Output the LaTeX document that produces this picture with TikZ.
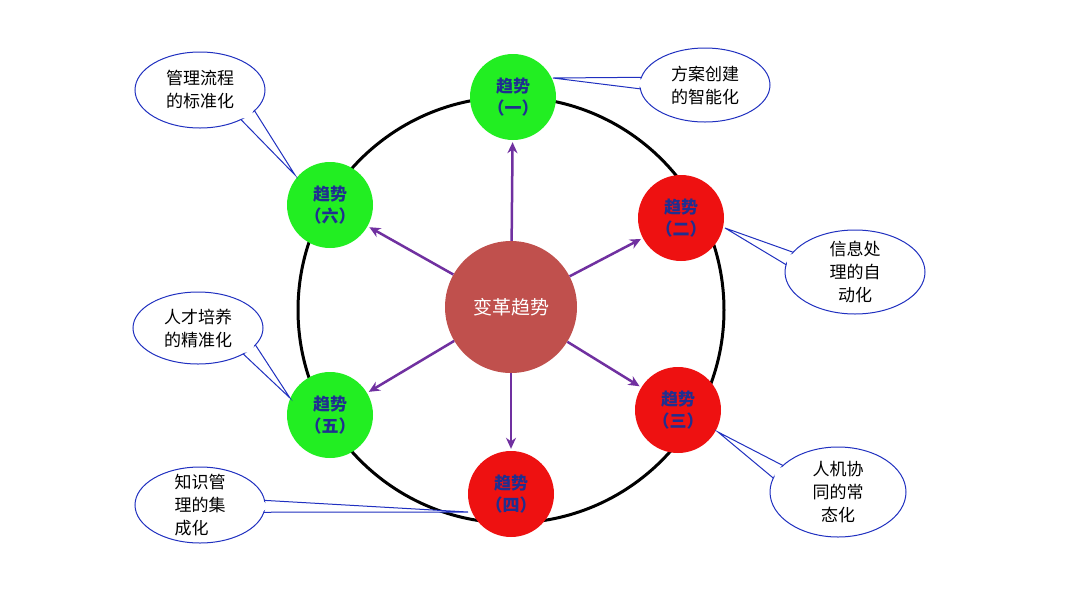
\documentclass[tikz,border=0pt]{standalone}
\usepackage{fontspec}
\newfontfamily\cjk{Noto Sans CJK SC}
\usetikzlibrary{arrows.meta,calc}
\definecolor{trblue}{HTML}{1F2F90}
\definecolor{purp}{HTML}{7030A0}
\definecolor{ctr}{HTML}{C0504D}
\definecolor{gr}{HTML}{22EE22}
\definecolor{rd}{HTML}{EE1111}
\definecolor{cb}{HTML}{2030C0}
\tikzset{
 trend/.style={circle,minimum size=86pt,inner sep=0pt,align=center,font=\cjk\bfseries\fontsize{17}{22}\selectfont,text=trblue},
 arr/.style={draw=purp,line width=2.5pt,-{Stealth[length=11pt,width=10pt]},shorten >=2pt},
 ctext/.style={align=center,font=\cjk\fontsize{17}{23}\selectfont}
}
\newcommand{\callout}[6]{% name, x, y, rx, ry, angle
 \coordinate (#1c) at (#2,#3);
 \path[fill=white,draw=cb,line width=1pt] ($(#1c)+(#6-9:#4 and #5)$) -- (#1t) -- ($(#1c)+(#6+9:#4 and #5)$);
 \draw[fill=white,draw=cb,line width=1pt] (#1c) ellipse [x radius=#4,y radius=#5];
 \fill[white] ($(#1c)+(#6-8.3:#4-1.2 and #5-1.2)$) -- ($(#1c)+(#6:#4+4 and #5+4)$) -- ($(#1c)+(#6+8.3:#4-1.2 and #5-1.2)$) -- cycle;
}
\begin{document}
\begin{tikzpicture}[x=1pt,y=-1pt]
\useasboundingbox[fill=white] (0,0) rectangle (1080,614);
\draw[line width=3pt] (511,310) circle [radius=213];
\node[circle,fill=ctr,minimum size=132pt,text=white,font=\cjk\fontsize{19}{22}\selectfont] (c) at (511,307) {变革趋势};
\node[trend,fill=gr] (t1) at (513,97) {趋势\\（一）};
\node[trend,fill=rd] (t2) at (681,218) {趋势\\（二）};
\node[trend,fill=rd] (t3) at (678,410) {趋势\\（三）};
\node[trend,fill=rd] (t4) at (511,494) {趋势\\（四）};
\node[trend,fill=gr] (t5) at (330,415) {趋势\\（五）};
\node[trend,fill=gr] (t6) at (330,205) {趋势\\（六）};
\foreach \t in {t1,t2,t3,t4,t5,t6} \draw[arr] (c) -- (\t);
\coordinate (e1t) at (553,78);
\coordinate (e2t) at (725,228);
\coordinate (e3t) at (718,432);
\coordinate (e4t) at (468,512);
\coordinate (e5t) at (290,398);
\coordinate (e6t) at (295,175);
\callout{e1}{705}{85}{65}{37}{183}
\callout{e2}{855}{272}{70}{42}{199}
\callout{e3}{838}{492}{68}{45}{207}
\callout{e4}{200}{505}{65}{38}{2}
\callout{e5}{198}{328}{65}{36}{37}
\callout{e6}{200}{90}{65}{38}{42}
\node[ctext] (l1) at (705,85) {方案创建\\的智能化};
\node[ctext] (l2) at (855,272) {信息处\\理的自\\动化};
\node[ctext] (l3) at (838,492) {人机协\\同的常\\态化};
\node[ctext,align=left] (l4) at (200,505) {知识管\\理的集\\成化};
\node[ctext] (l5) at (198,328) {人才培养\\的精准化};
\node[ctext] (l6) at (200,90) {管理流程\\的标准化};
\end{tikzpicture}
\end{document}
